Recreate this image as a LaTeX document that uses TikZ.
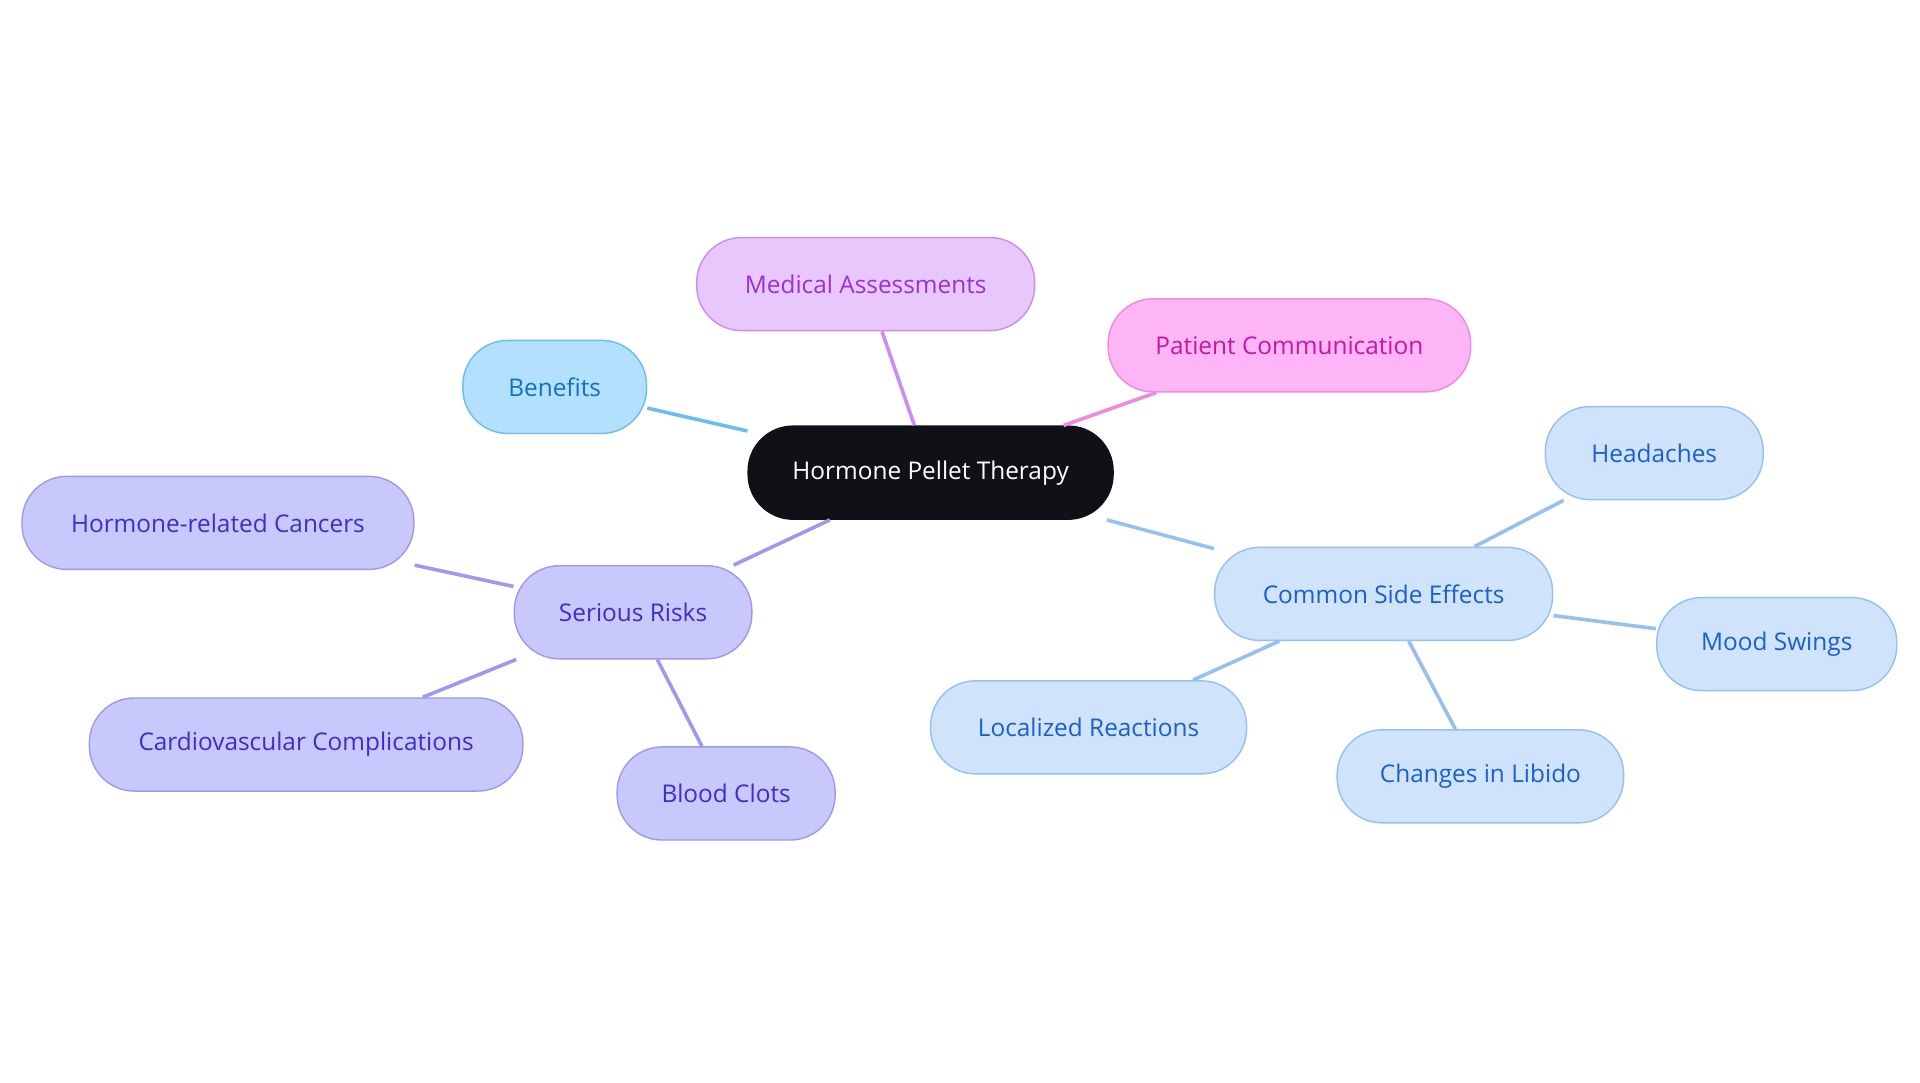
\documentclass[tikz,border=0pt]{standalone}
\usepackage{fontspec}
\setmainfont{Open Sans}
\usepackage{tikz}

\definecolor{rootfill}{HTML}{0F1117}
\definecolor{medfill}{HTML}{E8C8FC}\definecolor{medtext}{HTML}{9B30D9}\definecolor{medline}{HTML}{C98EF0}
\definecolor{patfill}{HTML}{FDB5F5}\definecolor{pattext}{HTML}{C8179F}\definecolor{patline}{HTML}{F08AE0}
\definecolor{benfill}{HTML}{B3E0FD}\definecolor{bentext}{HTML}{1272C0}\definecolor{benline}{HTML}{6BBDF0}
\definecolor{riskfill}{HTML}{C9C8FC}\definecolor{risktext}{HTML}{3B2FC9}\definecolor{riskline}{HTML}{9D99EE}
\definecolor{sidefill}{HTML}{CFE3FB}\definecolor{sidetext}{HTML}{1A5FCF}\definecolor{sideline}{HTML}{96C0F0}

\tikzset{
  box/.style = {rounded corners = 1.1cm, minimum height = 2.28cm, inner sep = 0pt,
    font = \fontsize{17}{20}\selectfont, line width = 1pt},
  med/.style = {box, fill = medfill, draw = medline, text = medtext},
  pat/.style = {box, fill = patfill, draw = patline, text = pattext},
  ben/.style = {box, fill = benfill, draw = benline, text = bentext},
  risk/.style = {box, fill = riskfill, draw = riskline, text = risktext},
  side/.style = {box, fill = sidefill, draw = sideline, text = sidetext},
}

\begin{document}
\begin{tikzpicture}[x = 0.03cm, y = -0.03cm, line width = 2.5pt]
\useasboundingbox (0,0) rectangle (1568,884);
\node[box, fill = rootfill, draw = rootfill, text = white, minimum width = 8.94cm] (root) at (760,386) {Hormone Pellet Therapy};
\node[med, minimum width = 8.28cm] (med) at (707,232) {Medical Assessments};
\node[pat, minimum width = 8.88cm] (pat) at (1053,282) {Patient Communication};
\node[ben, minimum width = 4.5cm] (ben) at (453,316) {Benefits};
\node[risk, minimum width = 5.82cm] (risk) at (517,500) {Serious Risks};
\node[risk, minimum width = 9.6cm] (cancer) at (178,427) {Hormone-related Cancers};
\node[risk, minimum width = 10.62cm] (cardio) at (250,608) {Cardiovascular Complications};
\node[risk, minimum width = 5.34cm] (clots) at (593,648) {Blood Clots};
\node[side, minimum width = 8.28cm] (side) at (1130,485) {Common Side Effects};
\node[side, minimum width = 5.34cm] (head) at (1351,370) {Headaches};
\node[side, minimum width = 5.88cm] (mood) at (1451,526) {Mood Swings};
\node[side, minimum width = 7.74cm] (local) at (889,594) {Localized Reactions};
\node[side, minimum width = 7.02cm] (libido) at (1209,634) {Changes in Libido};

\draw [medline] (root) -- (med);
\draw [patline] (root) -- (pat);
\draw [benline] (root) -- (ben);
\draw [riskline] (root) -- (risk);
\draw [sideline] (root) -- (side);
\draw [riskline] (risk) -- (cancer);
\draw [riskline] (risk) -- (cardio);
\draw [riskline] (risk) -- (clots);
\draw [sideline] (side) -- (head);
\draw [sideline] (side) -- (mood);
\draw [sideline] (side) -- (local);
\draw [sideline] (side) -- (libido);
\end{tikzpicture}
\end{document}
